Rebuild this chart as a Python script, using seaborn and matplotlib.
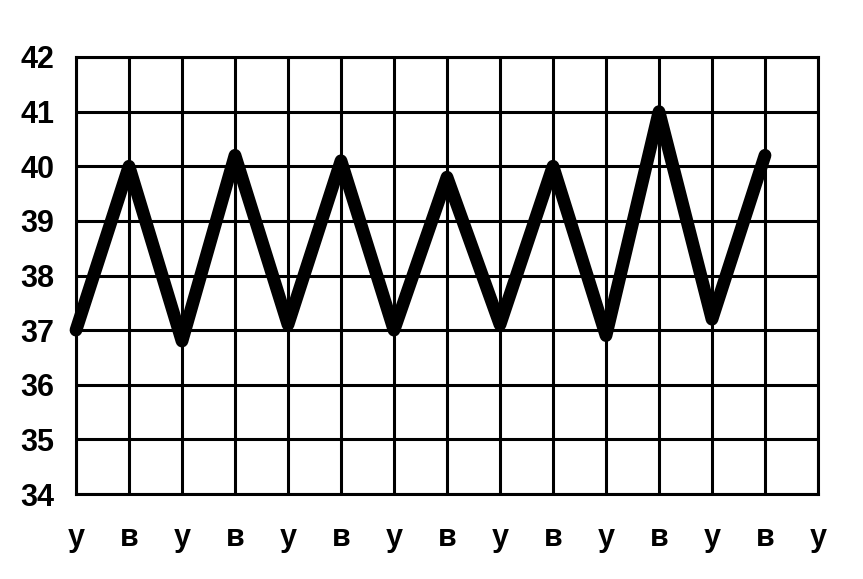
import pandas as pd
import matplotlib
matplotlib.use("Agg")
import matplotlib.pyplot as plt
import seaborn as sns

# data: temperature readings, morning (у) / evening (в)
day_part = ['у', 'в', 'у', 'в', 'у', 'в', 'у', 'в', 'у', 'в', 'у', 'в', 'у', 'в', 'у']
temps = [37.0, 40.0, 36.8, 40.2, 37.1, 40.1, 37.0, 39.8, 37.1, 40.0, 36.9, 41.0, 37.2, 40.2]
y_ticks = [34, 35, 36, 37, 38, 39, 40, 41, 42]

df = pd.DataFrame({'step': range(len(temps)), 'temp': temps})

sns.set_style("white")
plt.rcParams['font.family'] = ['Liberation Sans', 'DejaVu Sans']

fig = plt.figure(figsize=(8.63, 5.79), dpi=100)
ax = fig.add_axes([76 / 863, 1 - 494 / 579, (818 - 76) / 863, (494 - 57) / 579])

sns.lineplot(data=df, x='step', y='temp', ax=ax, color='black',
             linewidth=9.2, solid_capstyle='round', solid_joinstyle='round',
             zorder=3, clip_on=False)

ax.set_xlim(0, len(day_part) - 1)
ax.set_ylim(y_ticks[0], y_ticks[-1])
ax.set_xticks(range(len(day_part)))
ax.set_xticklabels(day_part)
ax.set_yticks(y_ticks)
ax.grid(True, color='black', linewidth=2.2)
ax.set_axisbelow(True)
for s in ax.spines.values():
    s.set_color('black')
    s.set_linewidth(2.2)

ax.tick_params(axis='both', length=0, labelsize=22, labelcolor='black')
ax.tick_params(axis='x', pad=21)
ax.tick_params(axis='y', pad=15.5)
for lab in ax.get_xticklabels() + ax.get_yticklabels():
    lab.set_fontweight('bold')
ax.set_xlabel('')
ax.set_ylabel('')

fig.savefig('out.png', dpi=100)
